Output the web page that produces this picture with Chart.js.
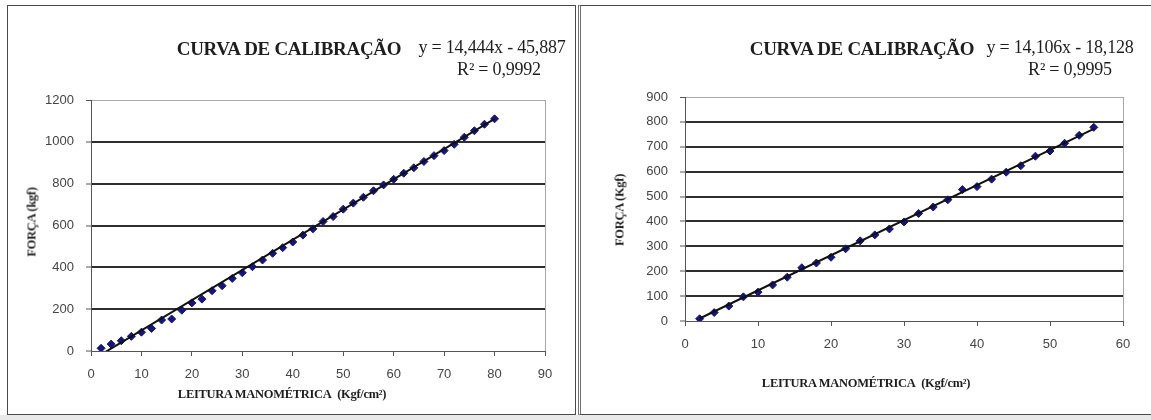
<!DOCTYPE html>
<html lang="pt">
<head>
<meta charset="utf-8">
<title>Curva de calibração</title>
<script src="https://cdn.jsdelivr.net/npm/chart.js@4.4.1/dist/chart.umd.min.js"></script>
<style>
  html, body { margin: 0; padding: 0; background: #fff; }
  body { width: 1151px; height: 420px; position: relative; overflow: hidden; font-family: 'Liberation Serif', 'Times New Roman', serif; }
  .panel { position: absolute; box-sizing: border-box; }
  #panelA { left: 7px; top: 5px; width: 569px; height: 410px; border: 1px solid #4a4a4a; }
  #panelB { left: 578px; top: 5px; width: 590px; height: 410px; border-top: 1px solid #4a4a4a; border-left: 3px double #707070; border-bottom: 1px solid #4a4a4a; }
  #strip { position: absolute; left: 0; top: 415px; width: 1151px; height: 5px; background: #e9e9e9; }
  canvas { position: absolute; top: 0; }
  #chartA { left: 0; }
  #chartB { left: 580px; }
  .txt { position: absolute; white-space: nowrap; color: #1e1e1e; transform: translate(-50%, -50%); }
  .title { font-weight: bold; font-size: 19px; letter-spacing: -0.3px; }
  .eq { font-size: 18px; letter-spacing: -0.2px; }
  .axis { font-weight: bold; font-size: 12.5px; letter-spacing: -0.3px; }
  .yaxis { transform: translate(-50%, -50%) rotate(-90deg); }
</style>
</head>
<body>
<div id="panelA" class="panel"></div>
<div id="panelB" class="panel"></div>
<div id="strip"></div>
<canvas id="chartA" width="576" height="420"></canvas>
<canvas id="chartB" width="571" height="420"></canvas>

<div class="txt title" style="left:289px; top:49px;">CURVA DE CALIBRAÇÃO</div>
<div class="txt eq" style="left:492px; top:47px;">y = 14,444x - 45,887</div>
<div class="txt eq" style="left:499px; top:69px;">R² = 0,9992</div>
<div class="txt axis yaxis" style="left:32px; top:222px;">FORÇA (kgf)</div>
<div class="txt axis" style="left:282px; top:394px;">LEITURA MANOMÉTRICA&nbsp; (Kgf/cm²)</div>

<div class="txt title" style="left:862px; top:49px;">CURVA DE CALIBRAÇÃO</div>
<div class="txt eq" style="left:1060px; top:47px;">y = 14,106x - 18,128</div>
<div class="txt eq" style="left:1070px; top:69px;">R² = 0,9995</div>
<div class="txt axis yaxis" style="left:620px; top:210px;">FORÇA (Kgf)</div>
<div class="txt axis" style="left:866px; top:383px;">LEITURA MANOMÉTRICA&nbsp; (Kgf/cm²)</div>

<script>
// ensaio 1: leitura manométrica (kgf/cm²) x força (kgf)
const leituraA = [2, 4, 6, 8, 10, 12, 14, 16, 18, 20, 22, 24, 26, 28, 30, 32, 34, 36, 38, 40,
                  42, 44, 46, 48, 50, 52, 54, 56, 58, 60, 62, 64, 66, 68, 70, 72, 74, 76, 78, 80];
const forcaA = [13, 33, 49, 70, 90, 108, 148, 153, 195, 230, 248, 288, 312, 347, 374, 403, 435, 467, 494, 521,
                554, 584, 619, 643, 678, 707, 735, 766, 794, 821, 850, 876, 906, 934, 958, 988, 1022, 1053, 1084, 1110];
// reta de ajuste y = a*x + b
const inclinacaoA = 14.444;
const interceptoA = -45.887;

// ensaio 2
const leituraB = [2, 4, 6, 8, 10, 12, 14, 16, 18, 20, 22, 24, 26, 28,
                  30, 32, 34, 36, 38, 40, 42, 44, 46, 48, 50, 52, 54, 56];
const forcaB = [9, 34, 60, 97, 116, 145, 176, 214, 233, 256, 290, 322, 346, 370,
                398, 432, 458, 487, 528, 540, 570, 598, 624, 662, 683, 714, 746, 778];
const inclinacaoB = 14.106;
const interceptoB = -18.128;

// eixos
const eixoXA = { min: 0, max: 90, passo: 10 };
const eixoYA = { min: 0, max: 1200, passo: 200 };
const eixoXB = { min: 0, max: 60, passo: 10 };
const eixoYB = { min: 0, max: 900, passo: 100 };

const tickFont = { family: "'Liberation Sans', Arial, sans-serif", size: 13 };

function pontos(xs, ys) {
  return xs.map((x, i) => ({ x: x, y: ys[i] }));
}

function reta(xs, a, b) {
  const x0 = Math.min(...xs), x1 = Math.max(...xs);
  return [{ x: x0, y: a * x0 + b }, { x: x1, y: a * x1 + b }];
}

function criarGrafico(id, xs, ys, a, b, ex, ey, area) {
  const ctx = document.getElementById(id).getContext('2d');
  return new Chart(ctx, {
    type: 'scatter',
    data: {
      datasets: [
        {
          data: reta(xs, a, b),
          showLine: true,
          borderColor: '#111',
          borderWidth: 2,
          pointRadius: 0,
          order: 0
        },
        {
          data: pontos(xs, ys),
          pointStyle: 'rectRot',
          pointRadius: 4,
          backgroundColor: '#15157a',
          borderColor: '#15157a',
          borderWidth: 1,
          order: 1
        }
      ]
    },
    options: {
      responsive: false,
      animation: false,
      layout: { padding: { left: 0, top: area.top, right: area.right, bottom: 0 } },
      plugins: { legend: { display: false }, tooltip: { enabled: false } },
      scales: {
        x: {
          type: 'linear',
          min: ex.min, max: ex.max,
          afterFit: s => { s.height = area.xHeight; },
          ticks: { stepSize: ex.passo, font: tickFont, color: '#444', padding: 11, maxRotation: 0, callback: v => String(v) },
          grid: {
            color: c => c.tick && c.tick.value === ex.max ? '#a8a8a8' : 'rgba(0,0,0,0)',
            lineWidth: 1,
            tickColor: '#555',
            tickWidth: 1,
            tickLength: 5
          },
          border: { color: '#555', width: 1 }
        },
        y: {
          min: ey.min, max: ey.max,
          afterFit: s => { s.width = area.yWidth; },
          ticks: { stepSize: ey.passo, font: tickFont, color: '#444', padding: 12, callback: v => String(v) },
          grid: {
            color: c => {
              if (!c.tick) return 'rgba(0,0,0,0)';
              if (c.tick.value === ey.max) return '#a8a8a8';
              if (c.tick.value === ey.min) return 'rgba(0,0,0,0)';
              return '#2e2e2e';
            },
            lineWidth: c => c.tick && c.tick.value === ey.max ? 1 : 2,
            tickColor: '#555',
            tickWidth: 1,
            tickLength: 5
          },
          border: { color: '#555', width: 1 }
        }
      }
    }
  });
}

criarGrafico('chartA', leituraA, forcaA, inclinacaoA, interceptoA, eixoXA, eixoYA,
  { top: 100, right: 31, xHeight: 69, yWidth: 91 });
criarGrafico('chartB', leituraB, forcaB, inclinacaoB, interceptoB, eixoXB, eixoYB,
  { top: 97, right: 28, xHeight: 99, yWidth: 105 });
</script>
</body>
</html>
